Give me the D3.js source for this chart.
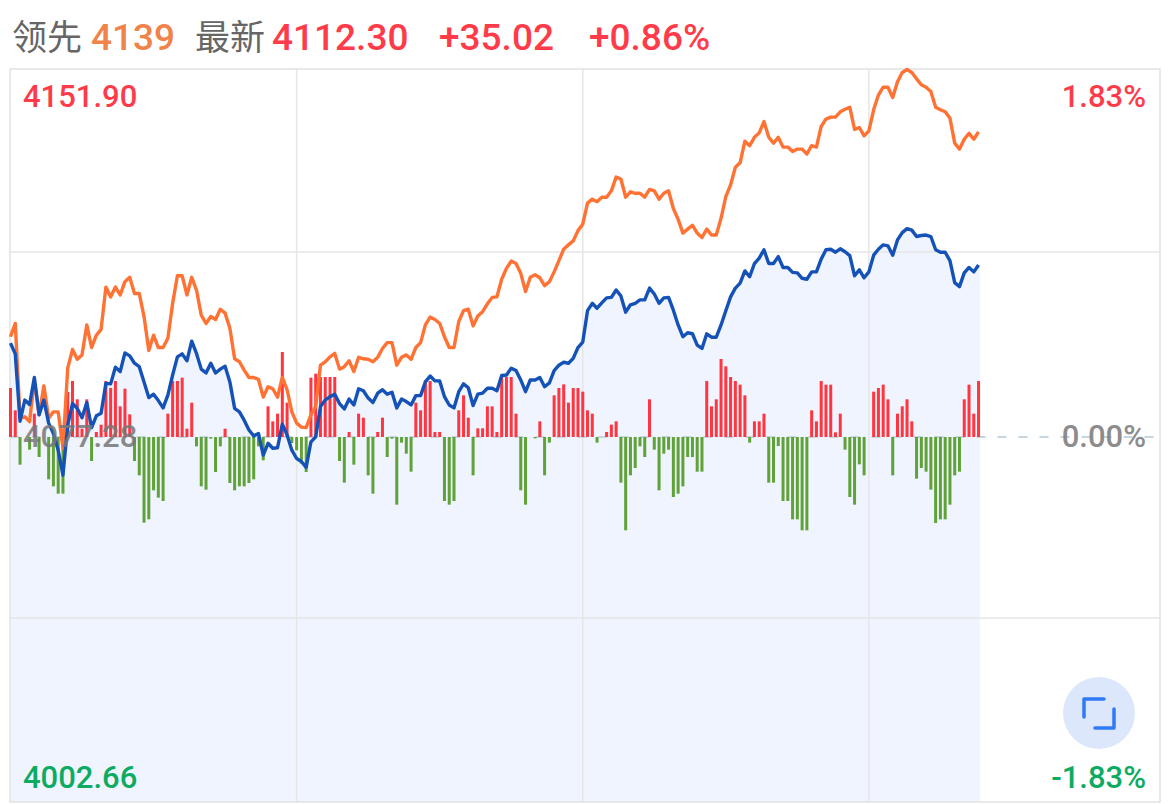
<!DOCTYPE html>
<html>
<head>
<meta charset="utf-8">
<script src="https://cdn.jsdelivr.net/npm/d3@7"></script>
<style>
  html, body { margin: 0; padding: 0; background: #fff; }
  svg { display: block; }
  text { font-family: Roboto, "Noto Sans CJK SC", sans-serif; font-weight: 500; }
</style>
</head>
<body>
<svg id="vis_svg" width="1170" height="804"></svg>
<script>
// index value per minute (blue line)
let indexPrice = [
  4096.4,4094.2,4080.5,4084.8,4083.9,4089.4,4081.8,4084.8,4080.1,4078.0,4074.6,4069.5,4079.7,4084.1,4083.1,4081.2,4084.3,4079.2,4081.6,4082.1,
  4088.2,4088.1,4091.5,4090.6,4094.4,4093.8,4092.3,4091.6,4088.5,4085.3,4086.0,4084.7,4083.2,4085.8,4089.9,4093.6,4094.2,4092.8,4096.8,4094.3,
  4091.1,4090.3,4092.3,4090.3,4091.1,4091.7,4088.5,4083.1,4082.4,4080.7,4078.7,4077.5,4078.0,4073.6,4076.0,4075.0,4075.1,4079.9,4077.7,4074.6,
  4072.9,4072.3,4071.1,4076.3,4077.3,4083.5,4084.8,4085.5,4086.0,4084.1,4083.0,4085.0,4083.8,4087.1,4086.7,4085.2,4084.3,4086.2,4086.9,4086.0,
  4086.4,4083.2,4085.0,4084.5,4083.8,4085.7,4085.7,4088.5,4089.7,4088.7,4088.7,4085.5,4083.8,4083.2,4086.5,4088.1,4087.3,4083.7,4086.0,4086.2,
  4087.2,4087.2,4086.7,4089.8,4089.9,4091.3,4090.8,4088.9,4086.5,4088.9,4088.9,4089.4,4087.5,4088.3,4090.8,4091.9,4092.5,4092.3,4093.3,4095.5,
  4096.6,4103.0,4104.5,4103.5,4104.6,4105.6,4105.7,4107.2,4106.0,4102.7,4104.2,4104.5,4105.2,4105.2,4107.6,4106.4,4104.5,4105.6,4105.7,4103.1,
  4100.1,4097.7,4098.5,4098.3,4096.0,4095.3,4098.3,4097.6,4097.6,4100.1,4103.0,4105.8,4107.6,4108.6,4111.1,4109.9,4112.6,4113.7,4115.4,4112.6,
  4112.6,4114.0,4111.8,4111.8,4110.8,4110.7,4109.6,4109.4,4110.9,4110.9,4113.5,4115.4,4115.5,4114.9,4115.6,4115.0,4114.2,4110.1,4111.3,4109.7,
  4110.9,4114.3,4115.5,4116.4,4116.2,4114.3,4117.4,4118.9,4119.7,4119.4,4118.1,4118.3,4118.4,4118.1,4115.4,4114.9,4114.9,4113.2,4108.7,4107.9,
  4110.7,4111.8,4110.9,4112.3
];

// leading value per minute (orange line)
let leadPrice = [
  4097.7,4100.4,4081.1,4081.4,4080.4,4088.9,4081.8,4087.7,4081.1,4082.4,4082.4,4075.0,4091.3,4095.1,4093.1,4094.0,4100.1,4095.5,4098.0,4099.2,
  4107.8,4105.8,4107.8,4106.2,4108.9,4109.8,4106.5,4106.5,4101.8,4094.9,4098.0,4095.5,4095.5,4097.4,4104.5,4110.1,4110.1,4106.2,4109.8,4107.2,
  4102.1,4100.4,4101.8,4101.2,4103.3,4102.5,4099.4,4093.2,4092.6,4090.9,4089.4,4089.4,4089.0,4085.4,4087.5,4087.1,4085.4,4089.4,4086.9,4082.4,
  4080.1,4079.3,4079.2,4081.8,4083.5,4091.9,4092.6,4093.6,4094.3,4091.1,4091.6,4092.8,4090.6,4093.5,4093.2,4093.1,4092.6,4093.5,4095.3,4096.5,
  4096.5,4091.9,4093.5,4094.0,4093.1,4095.5,4096.5,4100.1,4101.7,4101.2,4100.4,4097.7,4095.5,4095.5,4100.8,4103.0,4103.3,4099.9,4101.9,4102.8,
  4104.4,4105.7,4105.8,4109.4,4111.6,4113.1,4112.6,4110.6,4106.9,4109.8,4110.3,4109.7,4108.1,4108.9,4110.9,4113.2,4115.5,4116.4,4117.2,4119.3,
  4120.6,4124.9,4125.7,4125.2,4126.1,4126.1,4127.4,4130.2,4129.8,4126.1,4127.2,4126.9,4126.9,4126.1,4127.7,4127.4,4125.7,4126.9,4127.4,4123.8,
  4121.6,4118.8,4119.6,4120.4,4118.8,4117.9,4119.6,4118.4,4118.4,4121.8,4126.2,4128.6,4132.2,4133.1,4137.5,4136.6,4138.3,4139.2,4141.5,4138.3,
  4137.1,4138.3,4136.3,4136.3,4135.4,4135.9,4135.9,4134.9,4136.6,4136.3,4140.5,4142.0,4142.4,4142.4,4143.5,4144.0,4144.4,4139.9,4140.3,4138.6,
  4139.6,4143.9,4146.9,4148.5,4148.5,4146.4,4149.6,4151.5,4152.1,4151.5,4150.2,4149.0,4148.5,4147.6,4144.4,4143.9,4143.5,4142.2,4137.1,4135.9,
  4137.9,4139.1,4137.9,4139.4
];

// red / green strength bars per minute
let strength = [
  147,80,-83,0,-38,70,-60,0,-127,-148,-170,-170,135,168,113,25,113,-72,15,37,
  168,147,168,92,145,68,-72,-115,-257,-247,-160,-182,-192,70,168,168,178,25,103,-28,
  -148,-158,-5,-105,-28,25,-138,-160,-148,-148,-138,-127,-28,-70,92,47,70,255,103,-18,
  -40,-80,-105,178,190,180,180,180,180,-72,-137,15,-83,70,58,-115,-170,15,58,-60,
  -5,-203,-17,-50,-104,103,80,170,168,15,15,-192,-203,-192,80,125,58,-115,26,26,
  92,92,15,180,180,180,70,-160,-203,0,-4,47,-115,-17,125,147,158,103,147,147,
  136,80,70,-17,0,15,37,47,-137,-280,-115,-93,-28,-60,113,-38,-160,-50,-38,-180,
  -170,-148,-60,-60,-104,-104,168,92,113,234,212,180,168,157,125,-17,47,47,70,-137,
  -137,-27,-192,-192,-247,-247,-280,-280,80,47,168,157,157,14,70,-38,-180,-203,-82,-115,
  0,136,147,157,113,-115,70,92,113,47,-125,-93,-104,-158,-258,-247,-247,-203,-115,-104,
  113,157,70,168
];

let prevClose = 4077.28;
let priceHigh = 4151.90;
let priceLow = 4002.66;
let gridMinutes = [60, 120, 180];
let gridPrices = [4114.95, 4040.43];

let svg = d3.select('svg#vis_svg');

let red = '#ff3b4a';
let green = '#0dab62';
let frame = {left: 10, right: 1160, top: 69, bottom: 802};

let xScale = d3.scaleLinear().domain([0, 240]).range([10.5, 1155]);
let yScale = d3.scaleLinear().domain([priceLow, priceHigh]).range([803.5, 70.5]);
let barScale = d3.scaleLinear().domain([-300, 300]).range([yScale(prevClose) + 100, yScale(prevClose) - 100]);

// area under the index line, runs to the right edge of the last bar
let area = d3.area()
    .x((d, i) => xScale(i) + (i === indexPrice.length - 1 ? 1.5 : 0))
    .y0(frame.bottom)
    .y1(d => yScale(d));

svg.append('path')
    .attr('d', area(indexPrice))
    .attr('fill', '#eff4fe');

// grid
svg.selectAll('line.gridx')
    .data(gridMinutes)
    .enter()
    .append('line')
    .attr('x1', d => xScale(d))
    .attr('x2', d => xScale(d))
    .attr('y1', frame.top)
    .attr('y2', frame.bottom)
    .attr('stroke', '#e6e6e6')
    .attr('stroke-width', 1.5);

svg.selectAll('line.gridy')
    .data(gridPrices)
    .enter()
    .append('line')
    .attr('x1', frame.left)
    .attr('x2', frame.right)
    .attr('y1', d => yScale(d))
    .attr('y2', d => yScale(d))
    .attr('stroke', '#e6e6e6')
    .attr('stroke-width', 1.5);

svg.append('rect')
    .attr('x', frame.left)
    .attr('y', frame.top)
    .attr('width', frame.right - frame.left)
    .attr('height', frame.bottom - frame.top)
    .attr('fill', 'none')
    .attr('stroke', '#e2e2e2')
    .attr('stroke-width', 1.5);

// previous close dashes
svg.append('line')
    .attr('x1', xScale(0))
    .attr('x2', frame.right)
    .attr('y1', yScale(prevClose))
    .attr('y2', yScale(prevClose))
    .attr('stroke', '#c5d6e2')
    .attr('stroke-width', 2)
    .attr('stroke-dasharray', '9 12');

// strength bars
svg.selectAll('rect.bar')
    .data(strength)
    .enter()
    .append('rect')
    .attr('class', 'bar')
    .attr('x', (d, i) => xScale(i) - 1.5)
    .attr('width', 3)
    .attr('y', d => Math.min(barScale(d), barScale(0)))
    .attr('height', d => Math.abs(barScale(d) - barScale(0)))
    .attr('fill', d => d > 0 ? '#ff3540' : '#5fa338');

// lines
let line = d3.line()
    .x((d, i) => xScale(i))
    .y(d => yScale(d));

svg.append('path')
    .attr('d', line(leadPrice))
    .attr('fill', 'none')
    .attr('stroke', '#ff7233')
    .attr('stroke-width', 3.4)
    .attr('stroke-linejoin', 'round');

svg.append('path')
    .attr('d', line(indexPrice))
    .attr('fill', 'none')
    .attr('stroke', '#1552b8')
    .attr('stroke-width', 3.4)
    .attr('stroke-linejoin', 'round');

// header and axis labels
let labels = [
  {t: '领先', x: 12, y: 50, size: 35, fill: '#666666', weight: 400},
  {t: '4139', x: 91, y: 50, size: 37, fill: '#f0824a'},
  {t: '最新', x: 195, y: 50, size: 35, fill: '#666666', weight: 400},
  {t: '4112.30', x: 272, y: 50, size: 37, fill: red},
  {t: '+35.02', x: 439, y: 50, size: 37, fill: red},
  {t: '+0.86%', x: 589, y: 50, size: 37, fill: red},
  {t: '4151.90', x: 23, y: 107, size: 31, fill: red},
  {t: '4077.28', x: 23, y: 447, size: 31, fill: '#777777', opacity: 0.85},
  {t: '4002.66', x: 23, y: 788, size: 31, fill: green},
  {t: '1.83%', x: 1146, y: 107, size: 31, fill: red, anchor: 'end'},
  {t: '0.00%', x: 1146, y: 447, size: 31, fill: '#808080', opacity: 0.9, anchor: 'end'},
  {t: '-1.83%', x: 1146, y: 788, size: 31, fill: green, anchor: 'end'}
];

svg.selectAll('text.label')
    .data(labels)
    .enter()
    .append('text')
    .attr('class', 'label')
    .attr('x', d => d.x)
    .attr('y', d => d.y)
    .attr('font-size', d => d.size)
    .attr('fill', d => d.fill)
    .attr('opacity', d => d.opacity || 1)
    .attr('text-anchor', d => d.anchor || 'start')
    .style('font-weight', d => d.weight || 500)
    .text(d => d.t);

// fullscreen button
svg.append('circle')
    .attr('cx', 1099)
    .attr('cy', 713)
    .attr('r', 36)
    .attr('fill', '#dce7fb');

svg.selectAll('path.icon')
    .data(['M1084,717V699H1104', 'M1095,728H1114V709'])
    .enter()
    .append('path')
    .attr('class', 'icon')
    .attr('d', d => d)
    .attr('fill', 'none')
    .attr('stroke', '#2f7bf6')
    .attr('stroke-width', 3.5)
    .attr('stroke-linecap', 'round')
    .attr('stroke-linejoin', 'round');
</script>
</body>
</html>
